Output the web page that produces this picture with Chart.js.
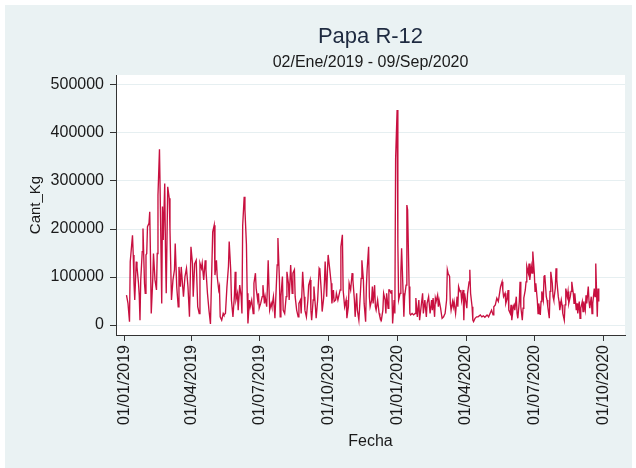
<!DOCTYPE html>
<html><head><meta charset="utf-8">
<script src="https://cdn.jsdelivr.net/npm/chart.js@4.4.1/dist/chart.umd.min.js"></script>
<style>html,body{margin:0;padding:0;background:#fff}#wrap{width:636px;height:468px}</style>
</head><body><div id="wrap"><canvas id="c" width="636" height="468"></canvas></div>
<script>
const titleText = 'Papa R-12';
const subtitleText = '02/Ene/2019 - 09/Sep/2020';
const xTitle = 'Fecha';
const yTitle = 'Cant_Kg';
// day offsets from 01/01/2019 for x-axis tick labels
const tickDays = [0, 90, 181, 273, 365, 456, 547, 639];
const tickLabels = ['01/01/2019', '01/04/2019', '01/07/2019', '01/10/2019', '01/01/2020', '01/04/2020', '01/07/2020', '01/10/2020'];
const yTicks = [0, 100000, 200000, 300000, 400000, 500000];

// observation dates (days since 01/01/2019)
const days = [
3,5,7,8,11,12,13,14,16,17,19,20,21,22,24,25,27,28,29,30,31,33,34,35,36,38,39,41,43,44,45,47,48,50,51,52,54,55,56,58,60,61,63,65,67,68,70,72,73,75,76,79,81,83,85,87,89,91,92,94,96,98,
100,101,103,104,106,108,109,111,113,115,116,118,120,121,123,124,126,127,128,130,132,133,135,137,139,140,142,143,145,147,148,149,151,152,154,156,157,158,160,161,163,164,165,167,168,170,172,173,175,176,178,179,180,182,184,185,187,188,190,191,192,194,196,197,199,200,
201,203,204,205,207,208,209,211,212,214,216,217,219,220,222,224,225,227,228,230,232,233,235,236,238,240,241,243,245,246,248,249,250,252,253,255,256,258,260,261,263,264,266,267,268,270,271,272,274,276,277,279,280,282,283,285,286,288,289,291,292,294,296,297,299,300,302,304,
305,307,308,310,311,313,315,316,317,319,320,322,323,324,326,327,328,330,331,332,334,335,336,338,340,341,343,345,346,348,349,350,352,353,354,356,357,358,360,361,362,364,365,366,368,369,370,372,373,374,376,377,378,380,381,382,384,386,388,389,391,393,394,396,398,399,401,403,404,406,408,
410,411,412,414,415,416,418,419,420,422,423,424,426,427,428,430,431,432,434,435,436,438,439,440,442,444,445,446,448,449,450,452,453,454,456,457,458,460,461,462,464,465,466,468,470,472,475,477,479,481,484,486,488,490,492,493,495,497,499,500,502,504,505,506,508,509,511,
512,513,515,516,517,519,520,521,523,524,525,527,528,529,531,532,533,535,536,537,539,540,541,543,544,545,547,548,549,551,552,553,555,556,557,559,560,561,563,564,565,567,568,569,571,572,573,575,576,577,579,580,581,583,584,585,587,588,589,591,592,593,595,596,597,599,600,601,603,604,605,607,608,609,611,612,613,615,616,617,619,620,621,623,624,625,627,628,629,631,632,633
];
// Cant_Kg values
const cantKg = [
62000,45000,7000,132000,187000,146000,87000,52000,132000,121000,87000,62000,10000,94000,153000,201000,87000,66000,146000,149000,205000,212000,236000,142000,24000,94000,149000,94000,73000,149000,271000,366000,267000,45000,247000,177000,295000,156000,66000,288000,264000,198000,52000,94000,115000,170000,80000,38000,121000,80000,121000,59000,101000,118000,80000,17000,163000,128000,59000,128000,135000,38000,
24000,129000,118000,129000,94000,135000,115000,66000,31000,2000,66000,194000,208000,104000,135000,101000,73000,80000,17000,10000,24000,21000,24000,80000,122000,174000,115000,52000,17000,62000,111000,52000,66000,31000,83000,59000,24000,208000,267000,240000,167000,66000,3000,52000,38000,52000,24000,87000,108000,76000,52000,66000,35000,45000,59000,83000,45000,59000,38000,80000,135000,31000,45000,38000,59000,38000,
14000,87000,125000,181000,94000,17000,59000,101000,31000,24000,59000,111000,87000,52000,125000,66000,108000,115000,59000,31000,17000,45000,52000,24000,111000,59000,31000,17000,52000,83000,94000,31000,10000,52000,80000,38000,14000,52000,118000,115000,66000,28000,56000,87000,132000,59000,111000,146000,118000,87000,45000,73000,49000,52000,66000,52000,59000,73000,163000,188000,73000,38000,52000,14000,38000,87000,73000,108000,
94000,52000,17000,66000,31000,10000,66000,97000,135000,94000,45000,7000,80000,115000,163000,59000,38000,52000,80000,45000,83000,38000,31000,52000,24000,17000,10000,31000,66000,52000,24000,66000,35000,73000,73000,66000,73000,3000,52000,24000,347000,448000,170000,52000,66000,111000,160000,66000,17000,59000,83000,250000,240000,80000,24000,21000,24000,21000,24000,56000,17000,52000,10000,38000,66000,24000,52000,17000,45000,59000,24000,
52000,31000,56000,17000,56000,49000,62000,38000,52000,35000,24000,14000,17000,21000,24000,52000,115000,108000,101000,45000,31000,49000,38000,49000,24000,59000,38000,80000,69000,73000,52000,73000,10000,66000,45000,35000,66000,90000,115000,66000,38000,10000,7000,14000,17000,17000,21000,17000,19000,16000,21000,17000,24000,31000,21000,38000,42000,56000,49000,59000,80000,90000,73000,59000,66000,45000,56000,
73000,31000,24000,42000,10000,38000,42000,31000,59000,24000,14000,49000,90000,38000,10000,35000,56000,73000,90000,122000,108000,128000,94000,122000,108000,153000,108000,70000,87000,52000,24000,45000,21000,49000,70000,52000,101000,104000,59000,52000,38000,14000,70000,111000,87000,59000,52000,76000,118000,94000,59000,49000,31000,52000,42000,24000,10000,42000,76000,59000,70000,45000,59000,70000,90000,66000,45000,66000,31000,45000,24000,49000,14000,35000,49000,28000,49000,31000,62000,45000,80000,49000,35000,59000,24000,45000,76000,59000,128000,17000,76000,49000
];

const points = days.map((d, i) => ({ x: d, y: cantKg[i] }));

const bgPlugin = {
  id: 'bg',
  beforeDraw(chart) {
    const { ctx, chartArea: a } = chart;
    ctx.save();
    ctx.fillStyle = '#ffffff';
    ctx.fillRect(0, 0, chart.width, chart.height);
    ctx.fillStyle = '#eaf2f3';
    ctx.fillRect(5, 5, 627, 463);
    ctx.fillStyle = '#ffffff';
    ctx.fillRect(a.left, a.top, a.right - a.left, a.bottom - a.top);
    ctx.restore();
  }
};

const FONT = "'Liberation Sans', Arial, sans-serif";
const TXT = '#1a1a1a';

new Chart(document.getElementById('c'), {
  type: 'line',
  data: {
    datasets: [{
      label: yTitle,
      data: points,
      borderColor: 'rgb(200,16,64)',
      borderWidth: 1.35,
      pointRadius: 0,
      tension: 0,
      fill: false
    }]
  },
  options: {
    responsive: false,
    animation: false,
    devicePixelRatio: 1,
    layout: { padding: { left: 0, right: 11, top: 0, bottom: 0 } },
    plugins: {
      legend: { display: false },
      tooltip: { enabled: false },
      title: {
        display: true, text: titleText, fullSize: false,
        color: '#1e2a40',
        font: { family: FONT, size: 22, weight: 'normal', lineHeight: 1.2 },
        padding: { top: 24, bottom: 0 }
      },
      subtitle: {
        display: true, text: subtitleText, fullSize: false,
        color: TXT,
        font: { family: FONT, size: 16, weight: 'normal', lineHeight: 1.2 },
        padding: { top: 3, bottom: 2.4 }
      }
    },
    scales: {
      x: {
        type: 'linear',
        min: -11, max: 668,
        afterBuildTicks: s => { s.ticks = tickDays.map(v => ({ value: v })); },
        afterFit: s => { s.height = 133; },
        ticks: {
          autoSkip: false, minRotation: 90, maxRotation: 90, padding: 4,
          color: TXT, font: { family: FONT, size: 16 },
          callback: (v, i) => tickLabels[i]
        },
        grid: { drawOnChartArea: false, tickLength: 6, color: '#333', tickColor: '#333' },
        border: { color: '#333', width: 1 },
        title: {
          display: true, text: xTitle, color: TXT,
          font: { family: FONT, size: 16, lineHeight: 1.2 },
          padding: { top: 0, bottom: 16.6 }
        }
      },
      y: {
        type: 'linear',
        min: -20833, max: 520833,
        afterBuildTicks: s => { s.ticks = yTicks.map(v => ({ value: v })); },
        afterFit: s => { s.width = 116; },
        ticks: {
          autoSkip: false, padding: 6, color: TXT, font: { family: FONT, size: 16 },
          callback: v => String(v)
        },
        grid: { color: '#e6eff1', lineWidth: 1, tickLength: 6, tickColor: '#333' },
        border: { color: '#333', width: 1 },
        title: {
          display: true, text: yTitle, color: TXT,
          font: { family: FONT, size: 15, lineHeight: 1.2 },
          padding: { top: 26.6, bottom: 0 }
        }
      }
    }
  },
  plugins: [bgPlugin]
});
</script>
</body></html>
